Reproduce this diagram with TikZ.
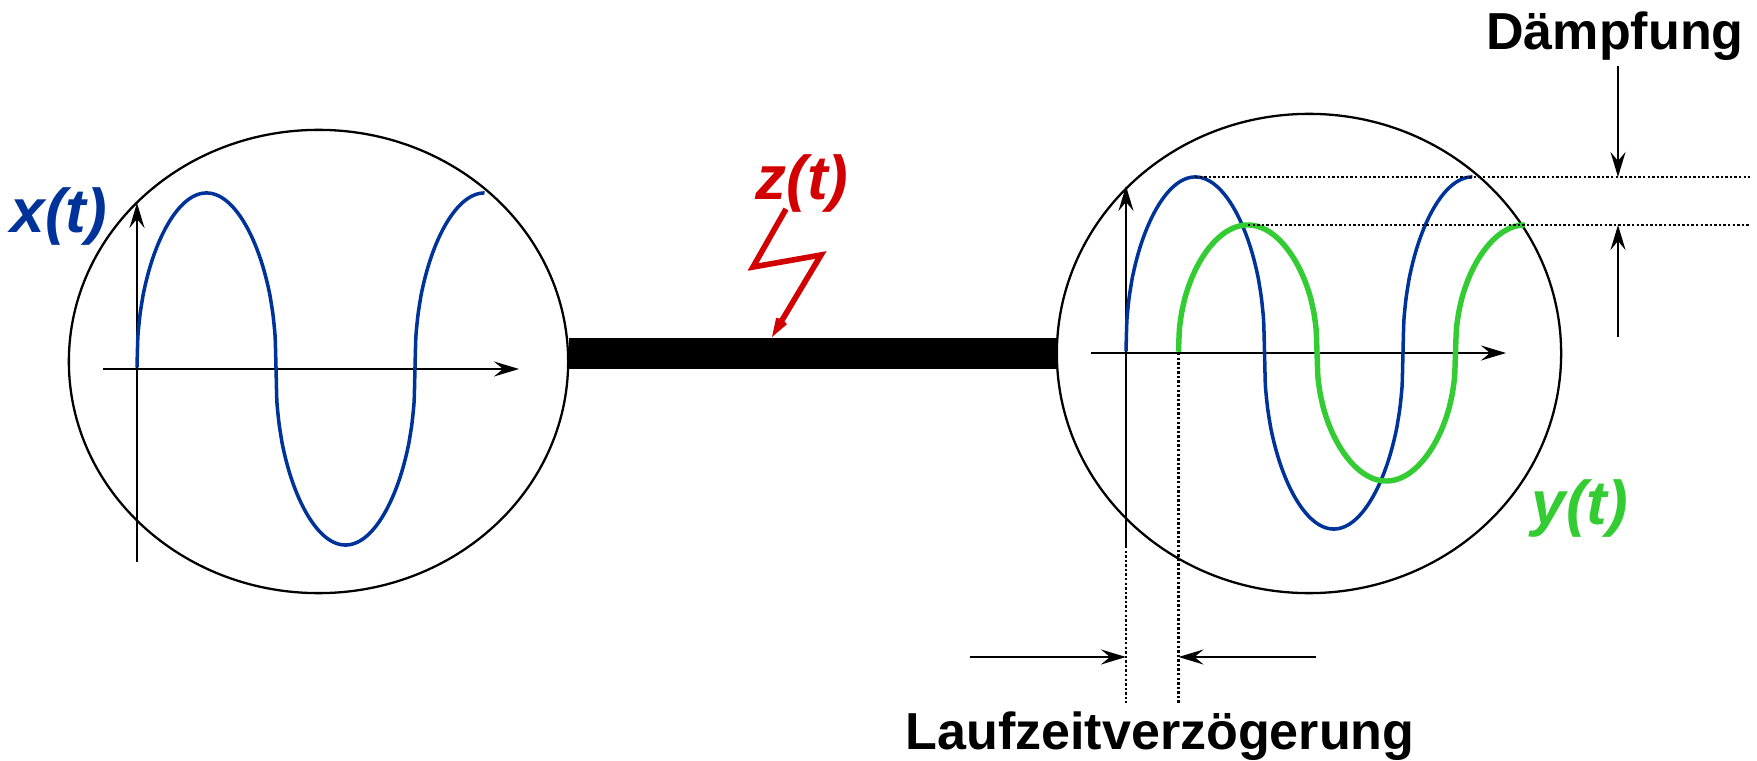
\documentclass[tikz,border=0pt]{standalone}
\usepackage{fontspec}
\setmainfont{Liberation Sans}
\usetikzlibrary{positioning,calc,shapes.geometric,arrows.meta}
\definecolor{sigblue}{RGB}{0,51,153}
\definecolor{siggreen}{RGB}{51,204,51}
\definecolor{sigred}{RGB}{210,0,0}

\begin{document}
\begin{tikzpicture}[
    x=0.01cm, y=-0.01cm,
    >={Stealth[length=0.25cm, width=0.15cm, inset=0.09cm]},
    declare function={wave(\t)=(sin(\t)>=0 ? 1 : -1)*pow(abs(sin(\t))+0.00001,0.44);},
    box/.style={ellipse, draw, line width=0.65pt, inner sep=0pt},
    axis/.style={->, line width=0.6pt},
    guide/.style={line width=0.6pt, dash pattern=on 0.7pt off 0.6pt},
    sig/.style={font=\fontsize{17.6}{18}\selectfont\bfseries\itshape, inner sep=0pt},
    lbl/.style={font=\fontsize{14.8}{16}\selectfont\bfseries, inner sep=0pt, anchor=base}
  ]
  \useasboundingbox (0,0) rectangle (1757,761);
  % Sender und Empfaenger
  \node[box, minimum width=4.99cm, minimum height=4.63cm] (sender) at (318.5,361.5) {};
  \node[box, minimum width=5.04cm, minimum height=4.79cm] (receiver) at (1309,353.5) {};
  \draw[line width=0.3cm] (sender.east |- receiver.west) -- (receiver.west);

  % Eingangssignal
  \draw[axis] (103,369) -- (519,369);
  \draw[axis] (137,562) -- (137,203);
  \draw[sigblue, line width=1pt] plot[domain=0:450, samples=451, smooth] ({137+\x/360*278}, {369-176*wave(\x)});
  \node[sig, text=sigblue] (xlab) at (59,217) {x(t)};

  % Ausgangssignal
  \draw[axis] (1091,353) -- (1506,353);
  \draw[axis] (1126,546) -- (1126,186);
  \draw[guide] (1126,546) -- (1126,703);
  \draw[guide] (1178.5,353) -- (1178.5,703);
  \draw[sigblue, line width=1pt] plot[domain=0:450, samples=451, smooth] ({1126+\x/360*277}, {353-176*wave(\x)});
  \draw[siggreen, line width=1.55pt] plot[domain=0:450, samples=451, smooth] ({1178.5+\x/360*277}, {353-128*wave(\x)});
  \node[sig, text=siggreen] (ylab) at (1580,508) {y(t)};

  % Stoerung
  \node[sig, text=sigred] (zlab) at (802,184) {z(t)};
  \coordinate (hit) at (772,337);
  \draw[sigred, line width=1.6pt, -{Stealth[length=0.4cm, width=0.27cm, inset=0.26cm]}]
    (786,209) -- (753,267) -- (821,255) -- (hit);

  % Daempfung
  \coordinate (peak) at (1618,177);
  \coordinate (peakg) at (1618,225);
  \draw[guide] (1195,177) -- (1750,177);
  \draw[guide] (1248,225) -- (1750,225);
  \node[lbl] (daempfung) at (1615,50) {Dämpfung};
  \draw[->, line width=0.6pt] ([yshift=-0.04cm]daempfung.south -| peak) -- (peak);
  \draw[->, line width=0.6pt] (1618,337) -- (peakg);

  % Laufzeit
  \coordinate (t0) at (1126,657);
  \coordinate (t1) at (1178.5,657);
  \draw[->, line width=0.6pt] (970,657) -- (t0);
  \draw[->, line width=0.6pt] (1316,657) -- (t1);
  \node[lbl] (laufzeit) at (1160,749) {Laufzeitverzögerung};
\end{tikzpicture}
\end{document}
